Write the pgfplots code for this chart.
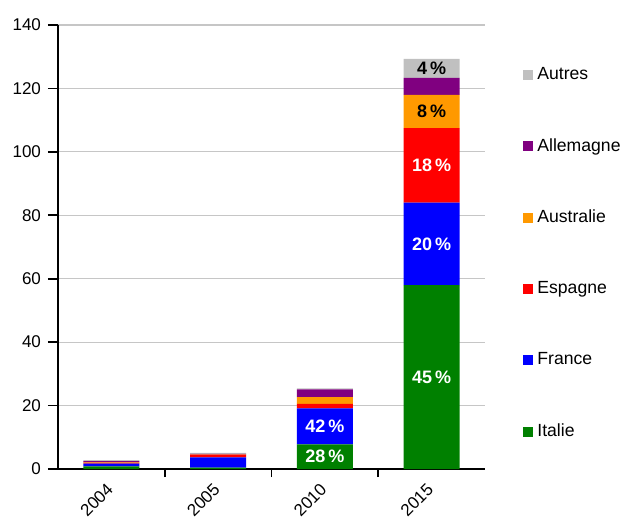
\documentclass[border=0pt]{standalone}
\usepackage{pgfplots}
\pgfplotsset{compat=1.18}
\usepackage{fontspec}
\setmainfont{Liberation Sans}
\definecolor{cIt}{RGB}{0,128,0}
\definecolor{cFr}{RGB}{0,0,255}
\definecolor{cEs}{RGB}{255,0,0}
\definecolor{cAu}{RGB}{255,153,0}
\definecolor{cAl}{RGB}{128,0,128}
\definecolor{cOt}{RGB}{192,192,192}
\pgfplotsset{myleg/.style={legend image code/.code={\fill[##1,draw=none] (0pt,-2.5pt) rectangle (5pt,2.5pt);}}}
\begin{document}
\begin{tikzpicture}
\begin{axis}[
  scale only axis, width=213.5pt, height=222pt,
  ybar stacked, bar width=28pt,
  xmin=-0.5, xmax=3.5, ymin=0, ymax=140,
  xtick={0,1,2,3}, xticklabels={2004,2005,2010,2015},
  minor xtick={0.5,1.5,2.5},
  major x tick style={draw=none},
  ytick={0,20,...,140},
  axis lines*=left,
  axis line style={line width=1pt},
  tick align=outside,
  tick style={black, line width=0.8pt},
  major tick length=5pt, minor tick length=4pt,
  ymajorgrids, grid style={gray!45, line width=0.6pt},
  /pgf/number format/assume math mode=true,
  ticklabel style={font=\fontsize{8.5}{10}\selectfont},
  xticklabel style={rotate=45, anchor=north east, inner sep=1pt, xshift=-2pt, yshift=2pt},
  reverse legend,
  legend cell align=left,
  legend style={at={(1.089,0.915)}, anchor=north west, draw=none, fill=none,
    font=\fontsize{8.8}{10}\selectfont, row sep=24pt, inner sep=0pt},
]
\coordinate (BL) at (rel axis cs:0,0);
\coordinate (TR) at (rel axis cs:1,1);
\addplot[fill=cIt, draw=none, myleg] coordinates {(0,0.8) (1,0.4) (2,7.8) (3,58)};
\addlegendentry{Italie}
\addplot[fill=cFr, draw=none, myleg] coordinates {(0,0.9) (1,3.3) (2,11.3) (3,26)};
\addlegendentry{France}
\addplot[fill=cEs, draw=none, myleg] coordinates {(0,0.2) (1,0.8) (2,1.4) (3,23.5)};
\addlegendentry{Espagne}
\addplot[fill=cAu, draw=none, myleg] coordinates {(0,0.2) (1,0.1) (2,2.2) (3,10.5)};
\addlegendentry{Australie}
\addplot[fill=cAl, draw=none, myleg] coordinates {(0,0.4) (1,0.2) (2,2.4) (3,5.3)};
\addlegendentry{Allemagne}
\addplot[fill=cOt, draw=none, myleg] coordinates {(0,0.3) (1,0.3) (2,0.3) (3,6)};
\addlegendentry{Autres}
\end{axis}
\begin{axis}[
  scale only axis, width=213.5pt, height=222pt,
  xmin=-0.5, xmax=3.5, ymin=0, ymax=140,
  hide axis,
  point meta=explicit symbolic,
  nodes near coords,
  every node near coord/.append style={font=\bfseries\fontsize{9}{10}\selectfont, anchor=center},
]
\addplot[only marks, mark=none, every node near coord/.append style={text=white}] coordinates {
  (2,3.9) [28\,\%] (2,13.45) [42\,\%]
  (3,29) [45\,\%] (3,71) [20\,\%] (3,95.75) [18\,\%]};
\addplot[only marks, mark=none, every node near coord/.append style={text=black}] coordinates {
  (3,112.75) [8\,\%] (3,126.3) [4\,\%]};
\end{axis}
\pgfresetboundingbox
\path ([xshift=-29pt,yshift=-25.5pt]BL) rectangle ([xshift=70.5pt,yshift=12.5pt]TR);
\end{tikzpicture}
\end{document}
